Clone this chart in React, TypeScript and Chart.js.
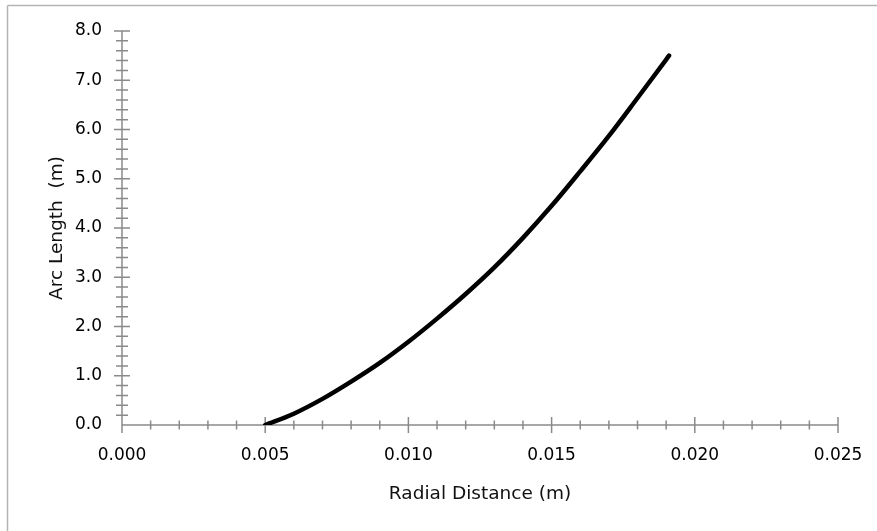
import React, { useEffect, useRef } from "react";
import { Chart, registerables } from "chart.js";

Chart.register(...registerables);

// Radial distance (m)
const radialDistance: number[] = [
  0.005, 0.006, 0.007, 0.008, 0.009, 0.01, 0.011, 0.012, 0.013, 0.014, 0.015,
  0.016, 0.017, 0.018, 0.019, 0.0191,
];
// Arc length (m)
const arcLength: number[] = [
  0, 0.23, 0.53, 0.88, 1.26, 1.69, 2.16, 2.66, 3.2, 3.8, 4.45, 5.15, 5.87,
  6.64, 7.42, 7.5,
];

const xTickStep = 0.005;
const xMinorStep = 0.001;
const yTickStep = 1;
const yMinorStep = 0.2;

const FONT = "'DejaVu Sans', sans-serif";

const axisPlugin = {
  id: "excelAxes",
  beforeDatasetsDraw(chart: any) {
    const { ctx, scales } = chart;
    const xs = scales.x;
    const ys = scales.y;
    const x0 = xs.getPixelForValue(xs.min);
    const x1 = xs.getPixelForValue(xs.max);
    const y0 = ys.getPixelForValue(ys.min);
    const y1 = ys.getPixelForValue(ys.max);
    ctx.save();
    ctx.strokeStyle = "#8a8a8a";
    ctx.lineWidth = 1.5;
    ctx.beginPath();
    ctx.moveTo(x0, y1);
    ctx.lineTo(x0, y0 + 8);
    ctx.moveTo(x0, y0);
    ctx.lineTo(x1, y0);
    const nx = Math.round((xs.max - xs.min) / xMinorStep);
    for (let i = 1; i <= nx; i++) {
      const v = xs.min + i * xMinorStep;
      const px = xs.getPixelForValue(v);
      const major = i % Math.round(xTickStep / xMinorStep) === 0;
      const h = major ? 8 : 4.5;
      ctx.moveTo(px, y0 - h);
      ctx.lineTo(px, y0 + h);
    }
    const ny = Math.round((ys.max - ys.min) / yMinorStep);
    for (let i = 1; i <= ny; i++) {
      const v = ys.min + i * yMinorStep;
      const py = ys.getPixelForValue(v);
      const major = i % Math.round(yTickStep / yMinorStep) === 0;
      const w = major ? 8 : 6;
      ctx.moveTo(x0 - w, py);
      ctx.lineTo(x0 + w, py);
    }
    ctx.stroke();
    ctx.restore();
  },
  afterDraw(chart: any) {
    const { ctx, width, height } = chart;
    ctx.save();
    ctx.strokeStyle = "#b4b4b4";
    ctx.lineWidth = 1.5;
    ctx.beginPath();
    ctx.moveTo(7.5, 5.5);
    ctx.lineTo(width, 5.5);
    ctx.moveTo(7.5, 5.5);
    ctx.lineTo(7.5, height);
    ctx.stroke();
    ctx.restore();
  },
};

export default function App() {
  const ref = useRef<HTMLCanvasElement | null>(null);
  useEffect(() => {
    if (!ref.current) return;
    const chart = new Chart(ref.current, {
      type: "line",
      data: {
        datasets: [
          {
            data: radialDistance.map((x, i) => ({ x, y: arcLength[i] })),
            borderColor: "#000000",
            borderWidth: 4.5,
            pointRadius: 0,
            fill: false,
            cubicInterpolationMode: "monotone",
            borderCapStyle: "round",
          },
        ],
      },
      options: {
        animation: false,
        responsive: false,
        devicePixelRatio: 1,
        layout: { padding: { left: 0, right: 39, top: 31, bottom: 26 } },
        plugins: { legend: { display: false }, tooltip: { enabled: false } },
        scales: {
          x: {
            type: "linear",
            min: 0,
            max: 0.025,
            afterFit: (s: any) => {
              s.height = 80;
              s.paddingLeft = 0;
              s.paddingRight = 0;
            },
            grid: { display: false, drawTicks: false },
            border: { display: false },
            ticks: {
              stepSize: xTickStep,
              padding: 20,
              color: "#000",
              font: { family: FONT, size: 17 },
              callback: (v: any) => Number(v).toFixed(3),
              maxRotation: 0,
            },
            title: {
              display: true,
              text: "Radial Distance (m)",
              color: "#111",
              font: { family: FONT, size: 18.5 },
              padding: 0,
            },
          },
          y: {
            type: "linear",
            min: 0,
            max: 8,
            afterFit: (s: any) => {
              s.width = 122;
              s.paddingTop = 0;
              s.paddingBottom = 0;
            },
            grid: { display: false, drawTicks: false },
            border: { display: false },
            ticks: {
              stepSize: yTickStep,
              padding: 20,
              color: "#000",
              font: { family: FONT, size: 17 },
              callback: (v: any) => Number(v).toFixed(1),
            },
            title: {
              display: true,
              text: "Arc Length  (m)",
              color: "#111",
              font: { family: FONT, size: 18.5 },
              padding: { top: 46, bottom: 0 },
            },
          },
        },
      },
      plugins: [axisPlugin],
    } as any);
    return () => chart.destroy();
  }, []);
  return (
    <div style={{ position: "absolute", left: 0, top: 0, width: 877, height: 531, background: "#fff" }}>
      <canvas ref={ref} width={877} height={531} style={{ width: 877, height: 531, display: "block" }} />
    </div>
  );
}
